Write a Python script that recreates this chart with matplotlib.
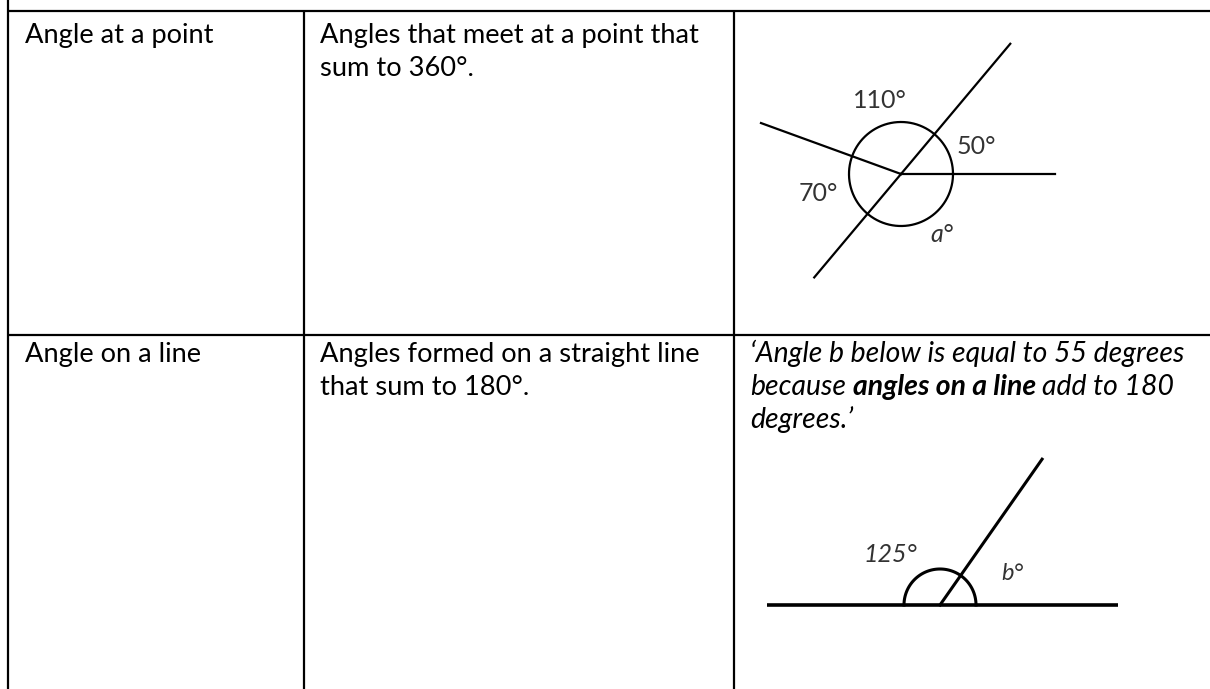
import matplotlib.pyplot as plt
import numpy as np

W, H = 1210, 689

# table content
term_names = ["Angle at a point", "Angle on a line"]
definitions = [["Angles that meet at a point that", "sum to 360°."],
               ["Angles formed on a straight line", "that sum to 180°."]]
# example sentence, split into (text, bold) pieces per line
example_lines = [
    [("‘Angle b below is equal to 55 degrees", False)],
    [("because", False), ("angles on a line", True), ("add to 180", False)],
    [("degrees.’", False)],
]

# angles at a point, anticlockwise from the horizontal ray
point_angles = [50, 110, 70]
point_labels = ["50°", "110°", "70°", "a°"]
# angle on a line
line_angle = 125
line_labels = ["125°", "b°"]

FONT = "Lato"
FS = 19.6
FS_IT = 20.4
FS_LAB = 18
INK = "black"
GREY = "#333333"

fig = plt.figure(figsize=(12.1, 6.89), dpi=100)
ax = fig.add_axes([0, 0, 1, 1])
ax.set_xlim(0, W)
ax.set_ylim(H, 0)
ax.axis("off")

# grid lines of the table
lw = 1.6
ax.plot([8, 8], [0, H], color=INK, lw=lw, solid_capstyle="butt")
for y in (11, 335):
    ax.plot([8, W], [y, y], color=INK, lw=lw, solid_capstyle="butt")
for x in (304, 734):
    ax.plot([x, x], [11, H], color=INK, lw=lw, solid_capstyle="butt")

row_base = [43, 362]
line_gap = 33
for i, name in enumerate(term_names):
    ax.text(25, row_base[i], name, fontsize=FS, family=FONT, va="baseline")
    for j, line in enumerate(definitions[i]):
        ax.text(320, row_base[i] + j * line_gap, line, fontsize=FS, family=FONT, va="baseline")

# mixed italic / bold italic sentence
fig.canvas.draw()
r = fig.canvas.get_renderer()


def text_width(s, weight):
    t = ax.text(0, 0, s, fontsize=FS_IT, family=FONT, style="italic", weight=weight)
    w = t.get_window_extent(r).width
    t.remove()
    return w


space_w = text_width("a a", "normal") - text_width("aa", "normal")
for j, pieces in enumerate(example_lines):
    x = 750
    y = row_base[1] + j * line_gap
    for s, bold in pieces:
        wt = "bold" if bold else "normal"
        ax.text(x, y, s, fontsize=FS_IT, family=FONT, style="italic", weight=wt, va="baseline")
        x += text_width(s, wt) + space_w

# angles at a point diagram
cx, cy, rad = 901, 174, 52
t = np.linspace(0, 2 * np.pi, 200)
ax.plot(cx + rad * np.cos(t), cy - rad * np.sin(t), color=INK, lw=1.6)
ray_dirs = np.concatenate([[0], np.cumsum(point_angles)])
ray_len = [154, 170, 149, 135]
for d, L in zip(ray_dirs, ray_len):
    a = np.radians(d)
    ax.plot([cx, cx + L * np.cos(a)], [cy, cy - L * np.sin(a)], color=INK, lw=1.6)
label_dirs = [20, 106, 193, 304]
label_dist = [80, 76, 85, 73]
for k, lab in enumerate(point_labels):
    a = np.radians(label_dirs[k])
    italic = lab.startswith("a")
    ax.text(cx + label_dist[k] * np.cos(a), cy - label_dist[k] * np.sin(a), lab,
            fontsize=FS_LAB, family=FONT, color=GREY, ha="center", va="center",
            style="italic" if italic else "normal")

# angle on a line diagram
vx, vy = 940, 605
ax.plot([767, 1118], [vy, vy], color=INK, lw=2.6, solid_capstyle="butt")
b = np.radians(180 - line_angle)
ax.plot([vx, vx + 178 * np.cos(b)], [vy, vy - 178 * np.sin(b)], color=INK, lw=2.2)
ts = np.linspace(0, np.pi, 100)
ax.plot(vx + 36 * np.cos(ts), vy - 36 * np.sin(ts), color=INK, lw=2.2)
ax.text(890, 555, line_labels[0], fontsize=FS_LAB, family=FONT, color=GREY,
        style="italic", ha="center", va="center")
ax.text(1012, 573, line_labels[1], fontsize=FS_LAB - 1, family=FONT, color=GREY,
        style="italic", ha="center", va="center")

fig.savefig("out.png", dpi=100)
